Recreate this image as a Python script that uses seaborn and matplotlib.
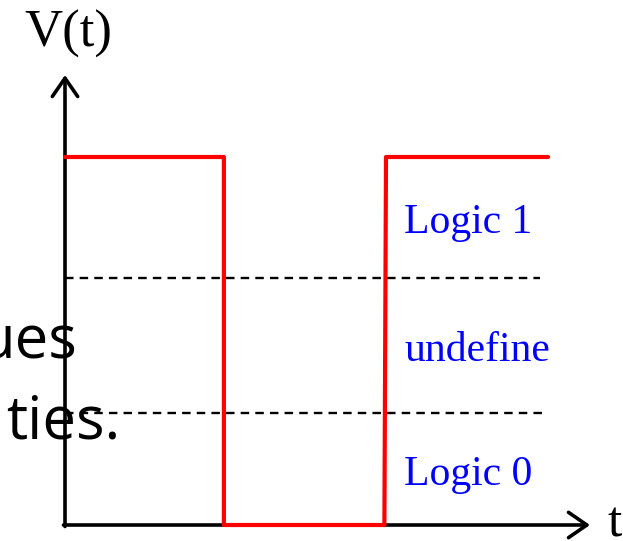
import matplotlib
matplotlib.use("Agg")
import matplotlib.pyplot as plt
import pandas as pd
import seaborn as sns

# square wave: time (periods) vs voltage (normalised to logic-high = 1)
signal_t = [0.0, 0.99, 0.99, 1.99, 2.0, 3.01]
signal_v = [1.0, 1.0, 0.0, 0.0, 1.0, 1.0]

# threshold levels (V_IH, V_IL) and how far the dashed lines run
threshold_v = [0.671, 0.304]
threshold_end = [2.96, 2.98]

region_labels = ["Logic 1", "undefine", "Logic 0"]
region_v = [0.7935, 0.445, 0.109]

df = pd.DataFrame({"t": signal_t, "V": signal_v})

sns.set_theme(style="white")
plt.rcParams["font.family"] = ["Liberation Serif", "DejaVu Serif"]

fig = plt.figure(figsize=(6.23, 5.41), dpi=100)
ax = fig.add_axes([0, 0, 1, 1])
ax.set_xlim(-65 / 160.5, 558 / 160.5)
ax.set_ylim(-16 / 368, 525 / 368)
ax.axis("off")

# leftover slide text sitting behind the chart
ax.text(0.075, 0.4538, "ues", ha="right", va="baseline", fontsize=43,
        family=["Open Sans", "DejaVu Sans"], color="black", zorder=1)
ax.text(0.343, 0.236, "ties.", ha="right", va="baseline", fontsize=43,
        family=["Open Sans", "DejaVu Sans"], color="black", zorder=1)

# thresholds
for v, end in zip(threshold_v, threshold_end):
    ax.plot([0, end], [v, v], color="black", lw=1.7, ls=(0, (3.6, 2.6)), zorder=2)

# axes with arrow heads
arrow = dict(arrowstyle="->,head_length=0.55,head_width=0.38", color="black",
             lw=2.6, mutation_scale=24, shrinkA=0, shrinkB=0)
ax.annotate("", xy=(0, 450 / 368), xytext=(0, -1.5 / 368), arrowprops=arrow, zorder=3)
ax.annotate("", xy=(525 / 160.5, 0), xytext=(-1.5 / 160.5, 0), arrowprops=arrow, zorder=3)

sns.lineplot(data=df, x="t", y="V", sort=False, estimator=None, color="#ff0000",
             lw=3, ax=ax, zorder=4)
ax.axis("off")

ax.text(0.02, 1.299, "V(t)", ha="center", va="baseline", fontsize=38, color="black")
ax.text(3.377, -0.03, "t", ha="left", va="baseline", fontsize=37, color="black")

for label, v in zip(region_labels, region_v):
    ax.text(2.112, v, label, ha="left", va="baseline", fontsize=30, color="#0000ff")

fig.savefig("out.png", dpi=100)
